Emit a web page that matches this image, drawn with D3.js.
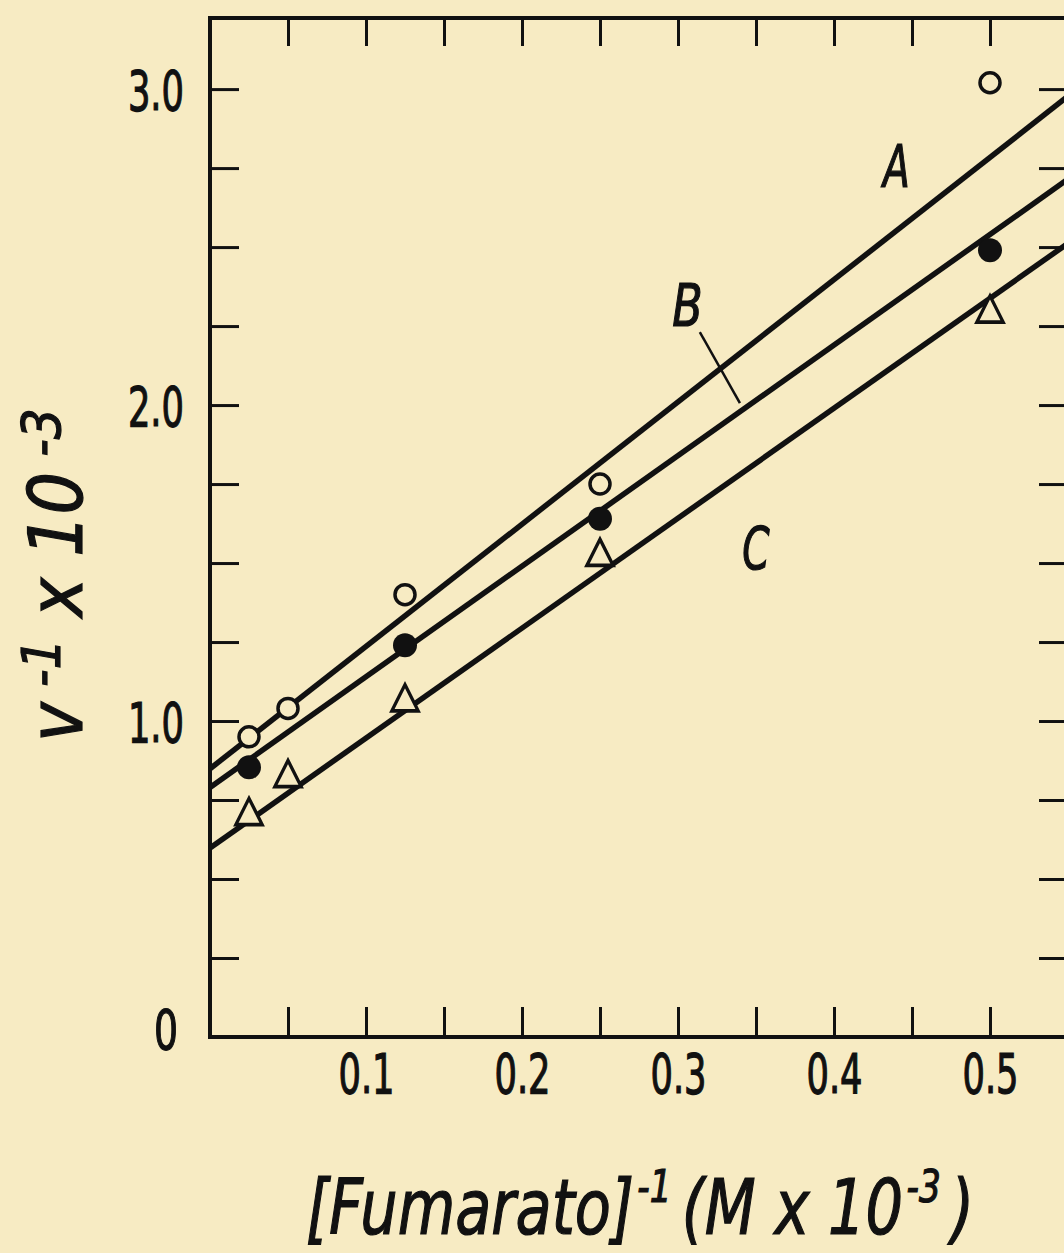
<!DOCTYPE html>
<meta charset="utf-8">
<style>
body{
	margin:0;
	background:#f7ebc3;
}
svg{
	display:block;
	background:#f7ebc3;
}
text{
	font-family:"DejaVu Sans Condensed","Liberation Sans Narrow",sans-serif;
	fill:#111;
	stroke:#111;
	stroke-width:1.2px;
}
.tick line{
	stroke:#111;
	stroke-width:3px;
}
.fit{
	fill:none;
	stroke:#111;
	stroke-width:5.5px;
}
</style>
<body>
<script src="https://d3js.org/d3.v7.min.js"></script>
<script>

// reciprocal fumarate concentration (x) and 1/v values per curve
var xVals=[0.025,0.05,0.125,0.25,0.5];
var seriesA=[0.95,1.04,1.40,1.75,3.02];
var seriesB=[0.854,null,1.24,1.64,2.49];
var seriesC=[0.70,0.82,1.06,1.52,2.29];
// fitted straight lines [intercept, slope]
var fitA=[0.849,3.87];
var fitB=[0.790,3.50];
var fitC=[0.598,3.48];
var xTicks=[0.05,0.1,0.15,0.2,0.25,0.3,0.35,0.4,0.45,0.5];
var xLabels={"0.1":"0.1","0.2":"0.2","0.3":"0.3","0.4":"0.4","0.5":"0.5"};
var yTicks=[0,0.25,0.5,0.75,1,1.25,1.5,1.75,2,2.25,2.5,2.75,3];
var yLabels={"0":"0","1":"1.0","2":"2.0","3":"3.0"};

var W=1064,H=1253;
var svg=d3.select("body").append("svg").attr("width",W).attr("height",H);

var x=d3.scaleLinear().domain([0,0.55]).range([210,1068]);
var y=d3.scaleLinear().domain([0,3.225]).range([1037,18]);

// squeeze text horizontally, like the narrow hand lettering
function narrow(sel,k){
	sel.each(function(){
		var w=this.getComputedTextLength();
		if(w>0) d3.select(this).attr("textLength",w*k).attr("lengthAdjust","spacingAndGlyphs");
	});
}

// frame
svg.append("rect")
	.attr("x",x(0)).attr("y",y(3.225))
	.attr("width",x(0.55)-x(0)).attr("height",y(0)-y(3.225))
	.attr("fill","none").attr("stroke","#111").attr("stroke-width",4);

// axes, ticks pointing inward
var gBottom=svg.append("g").attr("transform","translate(0,"+y(0)+")")
	.call(d3.axisBottom(x).tickValues(xTicks).tickSizeInner(-30).tickSizeOuter(0).tickPadding(14)
		.tickFormat(d=>xLabels[String(+d.toFixed(2))]||""));
gBottom.select(".domain").remove();
gBottom.selectAll("text").style("font-size","56px").attr("dy","0.75em").attr("fill","#111")
	.call(narrow,0.7);

var gTop=svg.append("g").attr("transform","translate(0,"+y(3.225)+")")
	.call(d3.axisTop(x).tickValues(xTicks).tickSizeInner(-28).tickSizeOuter(0).tickFormat(""));
gTop.select(".domain").remove();

var gLeft=svg.append("g").attr("transform","translate("+x(0)+",0)")
	.call(d3.axisLeft(y).tickValues(yTicks.slice(1)).tickSizeInner(-29).tickSizeOuter(0).tickPadding(26)
		.tickFormat(d=>yLabels[String(d)]||""));
gLeft.select(".domain").remove();
gLeft.selectAll("text").style("font-size","56px").attr("dy","0.36em").attr("fill","#111")
	.call(narrow,0.7);
svg.append("text").attr("x",x(0)-32).attr("y",y(0)+12).attr("text-anchor","end")
	.style("font-size","56px").text(yLabels["0"]).call(narrow,0.75);

var gRight=svg.append("g").attr("transform","translate("+x(0.55)+",0)")
	.call(d3.axisRight(y).tickValues(yTicks.slice(1)).tickSizeInner(-29).tickSizeOuter(0).tickFormat(""));
gRight.select(".domain").remove();

// fitted lines
[fitA,fitB,fitC].forEach(function(f){
	svg.append("line").attr("class","fit")
		.attr("x1",x(0)).attr("y1",y(f[0]))
		.attr("x2",x(0.55)).attr("y2",y(f[0]+f[1]*0.55));
});

function pts(s){
	return xVals.map((v,i)=>[v,s[i]]).filter(d=>d[1]!=null);
}

// A: open circles
svg.selectAll(".ptA").data(pts(seriesA)).enter().append("circle")
	.attr("cx",d=>x(d[0])).attr("cy",d=>y(d[1])).attr("r",10)
	.attr("fill","#f7ebc3").attr("stroke","#111").attr("stroke-width",3.5);
// B: filled circles
svg.selectAll(".ptB").data(pts(seriesB)).enter().append("circle")
	.attr("cx",d=>x(d[0])).attr("cy",d=>y(d[1])).attr("r",12)
	.attr("fill","#111");
// C: open triangles
var tri=d3.symbol().type(d3.symbolTriangle).size(300);
svg.selectAll(".ptC").data(pts(seriesC)).enter().append("path")
	.attr("d",tri)
	.attr("transform",d=>"translate("+x(d[0])+","+y(d[1])+") scale(1,1.15)")
	.attr("fill","#f7ebc3").attr("stroke","#111").attr("stroke-width",3.2);

// curve labels
var lab=svg.append("g").style("font-style","italic").style("font-size","58px");
lab.append("text").attr("x",x(0.44)).attr("y",y(2.69)).attr("text-anchor","middle").text("A").call(narrow,0.75);
lab.append("text").attr("x",x(0.306)).attr("y",y(2.25)).attr("text-anchor","middle").text("B").call(narrow,0.85);
lab.append("text").attr("x",x(0.35)).attr("y",y(1.48)).attr("text-anchor","middle").text("C").call(narrow,0.75);
svg.append("line").attr("x1",x(0.314)).attr("y1",y(2.231)).attr("x2",x(0.3397)).attr("y2",y(2.006))
	.attr("stroke","#111").attr("stroke-width",2.5);

// y axis title
var yt=svg.append("text").attr("transform","translate(82,575) rotate(-90)")
	.attr("text-anchor","middle").style("font-size","74px").style("font-style","italic");
yt.append("tspan").text("v");
yt.append("tspan").attr("dy",-22).style("font-size","54px").text(" -1");
yt.append("tspan").attr("dy",22).text(" x 10");
yt.append("tspan").attr("dy",-22).style("font-size","54px").text(" -3");

// x axis title
var xt=svg.append("text").attr("x",640).attr("y",1234)
	.attr("text-anchor","middle").style("font-size","76px").style("font-style","italic");
xt.append("tspan").text("[Fumarato]");
xt.append("tspan").attr("dx",4).attr("dy",-32).style("font-size","44px").text("-1");
xt.append("tspan").attr("dx",12).attr("dy",32).text("(M x 10");
xt.append("tspan").attr("dx",4).attr("dy",-32).style("font-size","44px").text("-3");
xt.append("tspan").attr("dx",12).attr("dy",32).text(")");
xt.call(narrow,0.9);

</script>
</body>
